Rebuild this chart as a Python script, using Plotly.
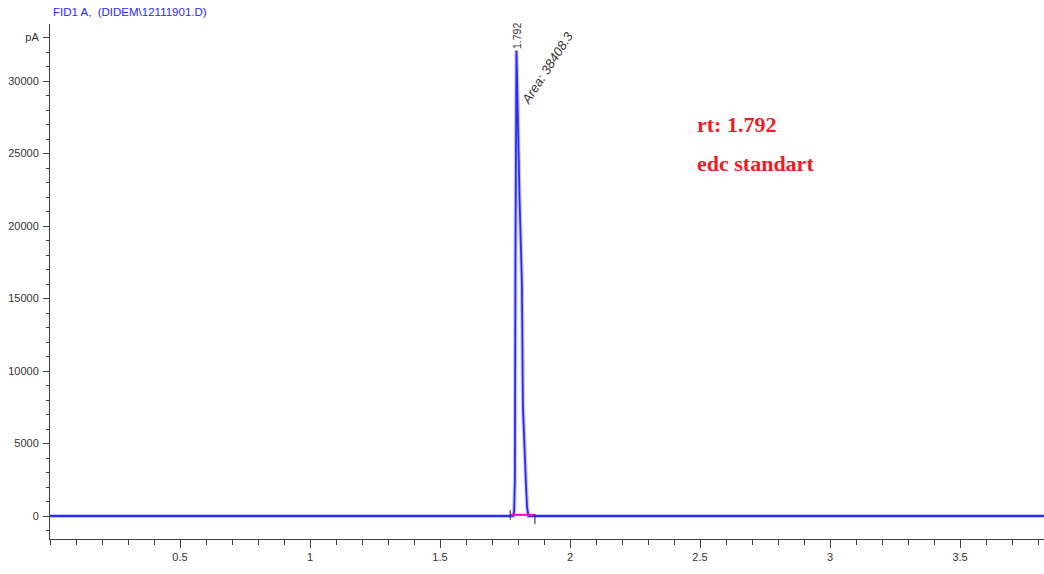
import plotly.graph_objects as go

# Chromatogram signal (minutes, pA)
time_min = [0.0, 1.770, 1.781, 1.785, 1.788, 1.790, 1.792, 1.794, 1.796, 1.800,
            1.806, 1.812, 1.815, 1.819, 1.825, 1.831, 1.835, 1.840, 3.823]
signal_pA = [0, 0, 0, 300, 2500, 17000, 31000, 32100, 30500, 26000,
             21800, 18000, 16000, 7500, 4200, 2000, 600, 0, 0]

# Integration baseline (start/end of peak integration)
integ_x = [1.770, 1.865]
integ_y = [80, 80]

peak_rt = 1.792
peak_area = "38408.3"

x_ticks = [0.5, 1, 1.5, 2, 2.5, 3, 3.5]
x_tick_text = ["0.5", "1", "1.5", "2", "2.5", "3", "3.5"]
y_ticks = [0, 5000, 10000, 15000, 20000, 25000, 30000, 33000]
y_tick_text = ["0", "5000", "10000", "15000", "20000", "25000", "30000", "pA"]

fig = go.Figure()
# soft halo of the trace
fig.add_trace(go.Scatter(x=time_min, y=signal_pA, mode="lines",
                         line=dict(color="rgba(150,150,255,0.55)", width=4),
                         hoverinfo="skip", showlegend=False))
fig.add_trace(go.Scatter(x=time_min, y=signal_pA, mode="lines",
                         line=dict(color="#2a2aff", width=1.8),
                         showlegend=False))
# integration baseline
fig.add_trace(go.Scatter(x=integ_x, y=integ_y, mode="lines",
                         line=dict(color="#ff00d0", width=2),
                         showlegend=False))
# integration start / end markers
fig.add_trace(go.Scatter(x=[integ_x[0]], y=[integ_y[0]], mode="markers",
                         marker=dict(symbol="line-ns", size=7, color="#222",
                                     line=dict(width=1, color="#222")),
                         showlegend=False))
fig.add_trace(go.Scatter(x=[integ_x[1]], y=[integ_y[1] - 300], mode="markers",
                         marker=dict(symbol="line-ns", size=7, color="#222",
                                     line=dict(width=1, color="#222")),
                         showlegend=False))

axis_font = dict(family="Liberation Sans, Arial, sans-serif", size=11, color="#333")

fig.update_xaxes(range=[0, 3.823], showline=True, linecolor="#404040", linewidth=1,
                 ticks="outside", ticklen=8, tickcolor="#404040", tickwidth=1,
                 tickmode="array", tickvals=x_ticks, ticktext=x_tick_text,
                 tickfont=axis_font, showgrid=False, zeroline=False,
                 minor=dict(tickmode="linear", tick0=0, dtick=0.1, ticks="outside",
                            ticklen=5, tickcolor="#404040", showgrid=False))
fig.update_yaxes(range=[-1586, 33931], showline=True, linecolor="#404040", linewidth=1,
                 ticks="outside", ticklen=6, tickcolor="#404040", tickwidth=1,
                 tickmode="array", tickvals=y_ticks, ticktext=y_tick_text,
                 tickfont=axis_font, showgrid=False, zeroline=False,
                 ticklabelstandoff=2,
                 minor=dict(tickmode="linear", tick0=0, dtick=1000, ticks="outside",
                            ticklen=3, tickcolor="#404040", showgrid=False))

fig.add_annotation(text="FID1 A,  (DIDEM\\12111901.D)", xref="paper", yref="paper",
                   x=0, y=1, xanchor="left", yanchor="bottom", xshift=1, yshift=4,
                   showarrow=False,
                   font=dict(family="Liberation Sans, Arial, sans-serif", size=11.5, color="#2828ff"))

fig.add_annotation(text=f"{peak_rt:.3f}", x=peak_rt, y=33100, textangle=-90,
                   showarrow=False, xanchor="center", yanchor="middle", xshift=1,
                   font=dict(family="Liberation Sans, Arial, sans-serif", size=10.5, color="#333"))
fig.add_annotation(text=f"<i>Area: {peak_area}</i>", x=1.915, y=30900, textangle=-57,
                   showarrow=False, xanchor="center", yanchor="middle",
                   font=dict(family="Liberation Sans, Arial, sans-serif", size=13, color="#333"))

red_font = dict(family="Liberation Serif, Times New Roman, serif", size=22, color="#ee1c25")
fig.add_annotation(text="<b>rt: 1.792</b>", x=2.48, y=26966, xanchor="left", yanchor="middle",
                   showarrow=False, font=red_font)
fig.add_annotation(text="<b>edc standart</b>", x=2.48, y=24345, xanchor="left", yanchor="middle",
                   showarrow=False, font=red_font)

fig.update_layout(width=1044, height=574, margin=dict(l=50, r=0, t=24, b=35),
                  plot_bgcolor="white", paper_bgcolor="white")

fig.write_html("out.html")
